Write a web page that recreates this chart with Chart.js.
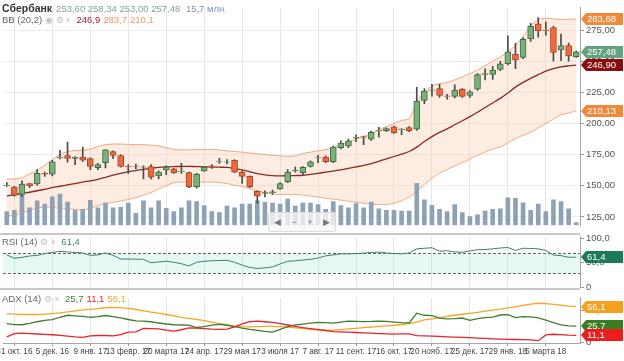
<!DOCTYPE html>
<html lang="ru">
<head>
<meta charset="utf-8">
<title>Сбербанк</title>
<script src="https://cdn.jsdelivr.net/npm/chart.js@4.4.1/dist/chart.umd.min.js"></script>
<style>
  html, body { margin: 0; padding: 0; background: #fff; }
  body { width: 624px; height: 361px; position: relative; overflow: hidden;
         font-family: "Liberation Sans", Arial, sans-serif; }
  canvas { position: absolute; left: 0; }
  .sep { position: absolute; left: 0; width: 580px; background: #c8c8c8; z-index: 3; }
  .hdr { position: absolute; left: 2px; font-size: 9.5px; color: #666; white-space: nowrap; z-index: 5; }
  .hdr span { margin-right: 3px; }
  .ico { color: #c2c2c2; font-size: 8.5px; }
  .nav { position: absolute; left: 268px; top: 212px; width: 66px; height: 18px; z-index: 4;
         background: rgba(246,246,246,0.8); border: 1px solid #dcdcdc; border-radius: 2px;
         display: flex; justify-content: space-around; align-items: center;
         font-size: 9px; color: #777; }
</style>
</head>
<body>
<canvas id="main" width="624" height="233" style="top:0"></canvas>
<canvas id="rsi" width="624" height="66" style="top:229px"></canvas>
<canvas id="adx" width="624" height="71" style="top:290px"></canvas>
<div class="sep" style="top:233px;height:2px"></div>
<div class="sep" style="top:288px;height:2px"></div>
<div class="nav"><span>◀</span><span>−</span><span>+</span><span>▶</span></div>
<div class="hdr" id="h1" style="top:2px"></div>
<div class="hdr" id="h2" style="top:14px"></div>
<div class="hdr" id="h3" style="top:236px"></div>
<div class="hdr" id="h4" style="top:293px"></div>

<script>
// weekly candles, week start dates
const weeks = ["2016-10-24","2016-10-31","2016-11-07","2016-11-14","2016-11-21","2016-11-28","2016-12-05","2016-12-12","2016-12-19","2016-12-26",
  "2017-01-02","2017-01-09","2017-01-16","2017-01-23","2017-01-30","2017-02-06","2017-02-13","2017-02-20","2017-02-27","2017-03-06",
  "2017-03-13","2017-03-20","2017-03-27","2017-04-03","2017-04-10","2017-04-17","2017-04-24","2017-05-01","2017-05-08","2017-05-15",
  "2017-05-22","2017-05-29","2017-06-05","2017-06-12","2017-06-19","2017-06-26","2017-07-03","2017-07-10","2017-07-17","2017-07-24",
  "2017-07-31","2017-08-07","2017-08-14","2017-08-21","2017-08-28","2017-09-04","2017-09-11","2017-09-18","2017-09-25","2017-10-02",
  "2017-10-09","2017-10-16","2017-10-23","2017-10-30","2017-11-06","2017-11-13","2017-11-20","2017-11-27","2017-12-04","2017-12-11",
  "2017-12-18","2017-12-25","2018-01-01","2018-01-08","2018-01-15","2018-01-22","2018-01-29","2018-02-05","2018-02-12","2018-02-19",
  "2018-02-26","2018-03-05","2018-03-12","2018-03-19","2018-03-26","2018-04-02"];

const tickWeeks = ["2016-10-31","2016-12-05","2017-01-09","2017-02-13","2017-03-20","2017-04-24","2017-05-29","2017-07-03",
  "2017-08-07","2017-09-11","2017-10-16","2017-11-20","2017-12-25","2018-01-29","2018-03-05"];
const tickLabels = ["31 окт. 16","5 дек. 16","9 янв. 17","13 февр. 17","20 марта 17","24 апр. 17","29 мая 17","3 июля 17",
  "7 авг. 17","11 сент. 17","16 окт. 17","20 нояб. 17","25 дек. 17","29 янв. 18","5 марта 18"];

const openP = [150,149,143,151.7,151.5,160,159.3,172.5,174.3,172,
  173,171.8,164.5,168.5,177.5,174.3,165.7,165.5,165,165.5,
  158,162.5,163.5,161.3,160.5,149.2,162,166,169.5,169,
  170.5,161,157.5,145.5,143.8,144.5,147.5,153,162,160.5,
  165.5,172.3,173,169.3,180.5,182,188.3,189.5,187.5,194,
  194.3,197.3,195,196.8,195.5,218.5,226.5,228,222.3,221.8,
  227.5,222.5,227.5,239.5,239.5,243.5,248,255.5,253,268,
  280,275,277,259,262.5,253.6];
const highP = [152.5,149.5,154,152,163,161,170.5,178.5,185,173.5,
  181,172.5,168,179,178,175,167,167.5,166,167,
  162,166,164,168,161,160,165.5,167,172,171,
  171,162,158,146,146,146.5,152.5,163,165,165.5,
  170,174.5,174,182,186,187.5,191,190,194,197,
  196.5,198,196,197.5,229,228,231.5,231.5,223.5,231,
  228,226.5,240,244,246,250,270.5,264.3,269,280.5,
  285,281.5,278,271.8,264.5,258.34];
const lowP = [149.5,141.7,141.5,148.5,150.5,157.5,158,171.5,169,167,
  169.5,163,163,164.3,171.8,165,160,163.5,155.5,155.5,
  155.5,159,160,160,148.5,148,161.5,164,168,167.5,
  160.5,151.8,148.5,136,141,143,147,152.5,161,158.5,
  165,168.5,168.5,168.5,179.5,180.5,185.5,183,186.5,189,
  193.5,192,191,193.5,194.5,216,222,221,219.5,220.5,
  221,221,226.5,235,235.5,242.5,247,244,252,266,
  269.3,271,250,250.5,250,253.0];
const closeP = [150.3,142.5,151.3,150,160,159.3,169.3,173,172,173,
  170.5,165.5,167,178.8,174.3,165.5,165.4,165.8,165.3,157,
  161,165,160.5,161.5,149.2,159.3,165,165.5,169.8,169.3,
  161,157.5,149.2,141.7,144.5,145.2,151.8,161,162.5,164.8,
  169.3,172.7,169.3,181,184.3,186,188.8,189,193,194.5,
  196,192.5,195.5,194.3,218,226,227,222.5,221.8,226.8,
  221.8,225.5,239.3,240,243,248,257.5,251,267.5,278,
  274.3,274.5,257,262.5,254.3,257.48];

// volume, mln shares
const volume = [81,88,176,103,143,125,167,183,136,88,
  94,147,103,130,103,106,130,70,143,103,
  143,99,81,103,143,139,116,81,75,112,
  103,125,125,143,136,130,125,154,112,130,
  130,121,94,139,116,103,128,103,136,97,
  88,88,84,84,246,149,117,94,81,121,
  75,51,62,84,94,97,161,158,132,88,
  125,81,149,139,97,15.7];

// Bollinger bands (20,2)
const bbUpper = [155.3,155.5,156.5,159.5,162.5,166.5,171,175,177.5,178.2,
  178.5,179.5,181.5,183,183.5,183.5,183.2,183,183,182.5,
  182,180.5,179.2,178.8,178.8,179,179.2,179.2,178.6,178,
  177.5,177,176.3,175.7,175,174.5,174,173.7,174,176,
  177,178,179,180.5,182.5,185,187.5,189.5,192,195,
  197.5,200,202.5,204,217,225,230,232,233,235,
  237.5,240,243,246.5,250,253.5,257.5,263,269.5,278.5,
  283.5,284.5,284,283.5,283.8,283.68];
const bbMiddle = [141.8,142.7,143.7,144.8,146,147.2,148.5,149.6,150.7,151.8,
  153,154,155.2,156.8,158.5,160,161.2,162.2,163.2,164,
  164.8,165.2,165.4,165.5,165.5,165.4,165.2,165,164.9,164.7,
  163.8,162.7,161.2,159.7,158.8,158.2,158,158.1,158.2,158.4,
  159.2,160,160.9,161.8,162.8,163.9,165.1,166.3,167.8,169.6,
  171.6,173.5,175.5,177.5,181,185.5,189.5,192.9,195.7,199,
  202.2,205.5,209,212.8,216.5,220.2,224.5,229.2,233,236.3,
  239.2,242,244,245.5,246.3,246.9];
const bbLower = [126,126.2,128,130.3,132,133,132.5,132,131.6,131,
  130.6,132,134,135.5,136.7,137.8,139,140.5,142.5,144.5,
  147.5,150,152.5,153,153,153,153,153,152.5,151.8,
  150.5,149.5,147.5,146,144.5,143.2,143,143,143,142.5,
  141.8,141,140,139.3,138.5,137.7,136.8,136,135.3,135,
  135,136,138,141,145.5,151,156,160,163,166,
  168.5,171.5,174.5,177,179.5,181,184.5,188,190.5,193,
  196.5,200,203.5,207,208.5,210.13];

const rsi14 = [66,59,61,63.7,65,68.5,71,73,72,71,
  70,65,66,70,65,57.5,57.5,57.3,57,50,
  51.5,53,51,48,43.5,51,53,54,54.5,55,
  51,45,40.5,38.3,39.5,41.5,47.5,53,54,55.5,
  57,59.5,64,66,68,68.2,68.7,69.5,71,71.5,
  70,68.7,68.2,70,78.3,79.5,80.5,73.5,74.4,72,
  71.3,74,76.5,77,78.3,80,81,75,79.5,79,
  78.3,75,65.6,64.5,61,61.4];
const rsiLevels = [30, 70];

const adx14 = [45,44.5,43.9,43.8,43.8,44.3,45.2,46.3,47.8,49.3,
  50.9,51.7,52.8,54.3,55,54.6,53.4,51.6,49.5,47.5,
  45.8,43.8,41.6,39.2,37.6,36.2,34.2,31.8,29.5,27.8,
  25.8,24.9,24.6,24.9,25.2,25.3,24.8,24,23,22,
  20.8,20,19.4,19.4,20.3,21.3,22.3,23.4,24.2,25.2,
  26.2,27,28.2,29.5,32,35.5,37.1,38.9,40.8,42.6,
  44.2,45.6,47.2,48.9,50.5,52.1,54.1,56,58,59.9,
  61.3,60.6,59.5,58.4,57,56.1];
const plusDI = [29.5,28,27.8,29.8,32.5,34.5,35.8,39.5,42.6,41.8,
  40.9,39.2,40.5,42.2,40.5,38.5,36,34,33.6,32.5,
  30.5,29,27.8,27.4,27.2,23.5,25,27.2,28.5,27,
  25,22.5,20.5,19,17.5,16.3,20.5,25,27.5,28.8,
  30.2,31.5,31,30.4,31.8,33.4,33.2,32.8,33,33.5,
  33,32,31,30.5,45.9,42.6,42,38,37,37.5,
  38.3,34.6,37.5,38.8,39.6,43,43.5,39,40.5,40,
  38.6,35,31,27.5,26,25.7];
const minusDI = [9,14,14.6,13.9,13.4,12.8,12.2,11.2,10,8.8,
  8.1,10.5,11,11,10.5,12.5,16.3,16.8,22,21.8,
  21.4,19.5,18,20,23,22.5,21.8,21,20.6,21,
  24.5,29,32.5,33.6,32.5,31.5,29.5,27.4,25.3,23.3,
  21.8,20.3,18.8,17.2,16.8,16.3,15.7,15.2,14.6,14,
  13.5,13.2,13.6,13.5,10.8,10.5,10.2,9.6,9,8.5,
  8.1,7.6,7,6.4,5.8,5.4,5,4.8,4.5,4.2,
  3,12,13,12.3,11.5,11.1];

const priceTicks = [125, 150, 175, 200, 225, 250, 275];

Chart.defaults.font.family = '"Liberation Sans", Arial, sans-serif';
Chart.defaults.animation = false;

const last = a => a[a.length - 1];
const fmt = (v, d) => v.toFixed(d).replace('.', ',');
const isGrid = i => tickWeeks.indexOf(weeks[i]) >= 0;
const up = i => closeP[i] >= openP[i];

function xAxis(withLabels) {
  return {
    type: 'category',
    offset: true,
    grid: {
      offset: false,
      color: c => isGrid(c.index) ? '#e6e6e6' : 'rgba(0,0,0,0)',
      tickColor: c => isGrid(c.index) ? '#999' : 'rgba(0,0,0,0)',
      drawTicks: withLabels,
      tickLength: 3
    },
    border: { display: withLabels, color: '#a6a6a6' },
    ticks: {
      display: withLabels, autoSkip: false, maxRotation: 0, minRotation: 0,
      padding: 1, color: '#444', font: { size: 8.2 },
      callback: (v, i) => {
        const k = tickWeeks.indexOf(weeks[i]);
        return k >= 0 ? tickLabels[k] : '';
      }
    },
    afterFit: s => { s.height = withLabels ? 18 : 0; }
  };
}

function yAxis(min, max, ticks, digits, showGrid) {
  return {
    position: 'right', min: min, max: max,
    afterBuildTicks: s => { s.ticks = ticks.map(v => ({ value: v })); },
    grid: { color: '#ececec', drawOnChartArea: showGrid, tickColor: '#999', tickLength: 4 },
    border: { color: '#a6a6a6' },
    ticks: { padding: 2, color: '#555', font: { size: 9.5 },
      callback: v => v === 0 ? '0' : fmt(v, digits) },
    afterFit: s => { s.width = 44; }
  };
}

// value tags on the right axis
function tagPlugin(items) {
  return {
    id: 'tags',
    afterDraw(chart) {
      const ctx = chart.ctx;
      const x = chart.chartArea.right + 1;
      items.forEach(t => {
        const y = Math.round(chart.scales.y.getPixelForValue(t.value));
        ctx.save();
        ctx.fillStyle = t.color;
        ctx.beginPath();
        ctx.moveTo(x, y);
        ctx.lineTo(x + 5, y - 6);
        ctx.lineTo(x + 42, y - 6);
        ctx.lineTo(x + 42, y + 6);
        ctx.lineTo(x + 5, y + 6);
        ctx.closePath();
        ctx.fill();
        ctx.fillStyle = '#fff';
        ctx.font = '9.5px "Liberation Sans", Arial, sans-serif';
        ctx.textBaseline = 'middle';
        ctx.fillText(t.text, x + 6, y + 0.5);
        ctx.restore();
      });
    }
  };
}

const rsiZone = {
  id: 'rsiZone',
  beforeDatasetsDraw(chart) {
    const { ctx, chartArea: a } = chart;
    const y = chart.scales.y;
    const yHi = Math.round(y.getPixelForValue(rsiLevels[1])) + 0.5;
    const yLo = Math.round(y.getPixelForValue(rsiLevels[0])) + 0.5;
    ctx.save();
    ctx.fillStyle = 'rgba(130, 220, 200, 0.2)';
    ctx.fillRect(a.left, yHi, a.right - a.left, yLo - yHi);
    ctx.strokeStyle = '#666';
    ctx.lineWidth = 1;
    ctx.setLineDash([3, 2]);
    [yHi, yLo].forEach(v => {
      ctx.beginPath();
      ctx.moveTo(a.left, v);
      ctx.lineTo(a.right, v);
      ctx.stroke();
    });
    ctx.restore();
  }
};

const baseOpts = {
  responsive: false,
  animation: false,
  plugins: { legend: { display: false }, tooltip: { enabled: false } }
};

// ---- price panel
new Chart(document.getElementById('main'), {
  type: 'bar',
  data: {
    labels: weeks,
    datasets: [
      {
        data: weeks.map((w, i) => [openP[i], closeP[i]]),
        backgroundColor: weeks.map((w, i) => up(i) ? '#78b27a' : '#ec6a3d'),
        borderColor: weeks.map((w, i) => up(i) ? '#3f6b41' : '#a9442a'),
        borderWidth: 1, borderSkipped: false, barThickness: 6, grouped: false, order: 0
      },
      {
        data: weeks.map((w, i) => [lowP[i], highP[i]]),
        backgroundColor: '#4a4a4a', barThickness: 1, grouped: false, order: 1
      },
      {
        data: volume, yAxisID: 'yVol',
        backgroundColor: '#8fa1b5', barThickness: 4, grouped: false, order: 2
      },
      {
        type: 'line', data: bbMiddle, borderColor: '#8c2727', borderWidth: 1.3,
        pointRadius: 0, tension: 0.3, fill: false, order: 3
      },
      {
        type: 'line', data: bbUpper, borderColor: '#f0a57c', borderWidth: 1,
        pointRadius: 0, tension: 0.3, fill: 5, backgroundColor: 'rgba(249, 196, 166, 0.32)', order: 4
      },
      {
        type: 'line', data: bbLower, borderColor: '#f0a57c', borderWidth: 1,
        pointRadius: 0, tension: 0.3, fill: false, order: 5
      }
    ]
  },
  options: Object.assign({}, baseOpts, {
    layout: { padding: { left: 3, top: 0, right: 0, bottom: 0 } },
    scales: {
      x: xAxis(false),
      y: yAxis(118.25, 293, priceTicks, 2, true),
      yVol: { display: false, min: 0, max: 1276 }
    }
  }),
  plugins: [tagPlugin([
    { value: last(bbUpper), text: fmt(last(bbUpper), 2), color: '#f08a3a' },
    { value: last(bbLower), text: fmt(last(bbLower), 2), color: '#f08a3a' },
    { value: last(closeP), text: fmt(last(closeP), 2), color: '#62a283' },
    { value: last(bbMiddle), text: fmt(last(bbMiddle), 2), color: '#8a0c0c' }
  ])]
});

// ---- RSI panel
new Chart(document.getElementById('rsi'), {
  type: 'line',
  data: {
    labels: weeks,
    datasets: [{ data: rsi14, borderColor: '#3f7f66', borderWidth: 1, pointRadius: 0, tension: 0 }]
  },
  options: Object.assign({}, baseOpts, {
    layout: { padding: { left: 3, top: 6, right: 0, bottom: 7 } },
    scales: { x: xAxis(false), y: yAxis(0, 103, [0, 50, 100], 1, false) }
  }),
  plugins: [rsiZone, tagPlugin([{ value: last(rsi14), text: fmt(last(rsi14), 1), color: '#1c7a5c' }])]
});

// ---- ADX panel
new Chart(document.getElementById('adx'), {
  type: 'line',
  data: {
    labels: weeks,
    datasets: [
      { data: minusDI, borderColor: '#e8232b', borderWidth: 1.3, pointRadius: 0 },
      { data: plusDI, borderColor: '#3d7e30', borderWidth: 1.3, pointRadius: 0 },
      { data: adx14, borderColor: '#f5a524', borderWidth: 1.3, pointRadius: 0 }
    ]
  },
  options: Object.assign({}, baseOpts, {
    layout: { padding: { left: 3, top: 0, right: 0, bottom: 0 } },
    scales: { x: xAxis(true), y: yAxis(-0.67, 70, [0, 50], 1, false) }
  }),
  plugins: [tagPlugin([
    { value: last(adx14), text: fmt(last(adx14), 1), color: '#f5a01e' },
    { value: last(plusDI), text: fmt(last(plusDI), 1), color: '#3b7d22' },
    { value: last(minusDI), text: fmt(last(minusDI), 1), color: '#ee1c1c' }
  ])]
});

// ---- headers
const n = weeks.length - 1;
document.getElementById('h1').innerHTML =
  '<b style="color:#333;font-size:10.5px;margin-right:4px">Сбербанк</b>' +
  '<span style="color:#7aa98e">' + [openP[n], highP[n], lowP[n], closeP[n]].map(v => fmt(v, 2)).join(' ') + '</span> ' +
  '<span style="color:#7b93ad">' + fmt(volume[n], 1) + ' млн.</span>';
document.getElementById('h2').innerHTML =
  '<span>BB (20,2)</span><span class="ico">◉ ⚙ ×</span> ' +
  '<span style="color:#a3192b">' + fmt(bbMiddle[n], 1) + '</span>' +
  '<span style="color:#f09a66">' + fmt(bbUpper[n], 1) + '</span>' +
  '<span style="color:#f09a66">' + fmt(bbLower[n], 1) + '</span>';
document.getElementById('h3').innerHTML =
  '<span>RSI (14)</span><span class="ico">⚙ ×</span> <span style="color:#3f8a6a">' + fmt(rsi14[n], 1) + '</span>';
document.getElementById('h4').innerHTML =
  '<span>ADX (14)</span><span class="ico">⚙ ×</span> ' +
  '<span style="color:#3d7e30">' + fmt(plusDI[n], 1) + '</span>' +
  '<span style="color:#e8232b">' + fmt(minusDI[n], 1) + '</span>' +
  '<span style="color:#f5a524">' + fmt(adx14[n], 1) + '</span>';
</script>
</body>
</html>
